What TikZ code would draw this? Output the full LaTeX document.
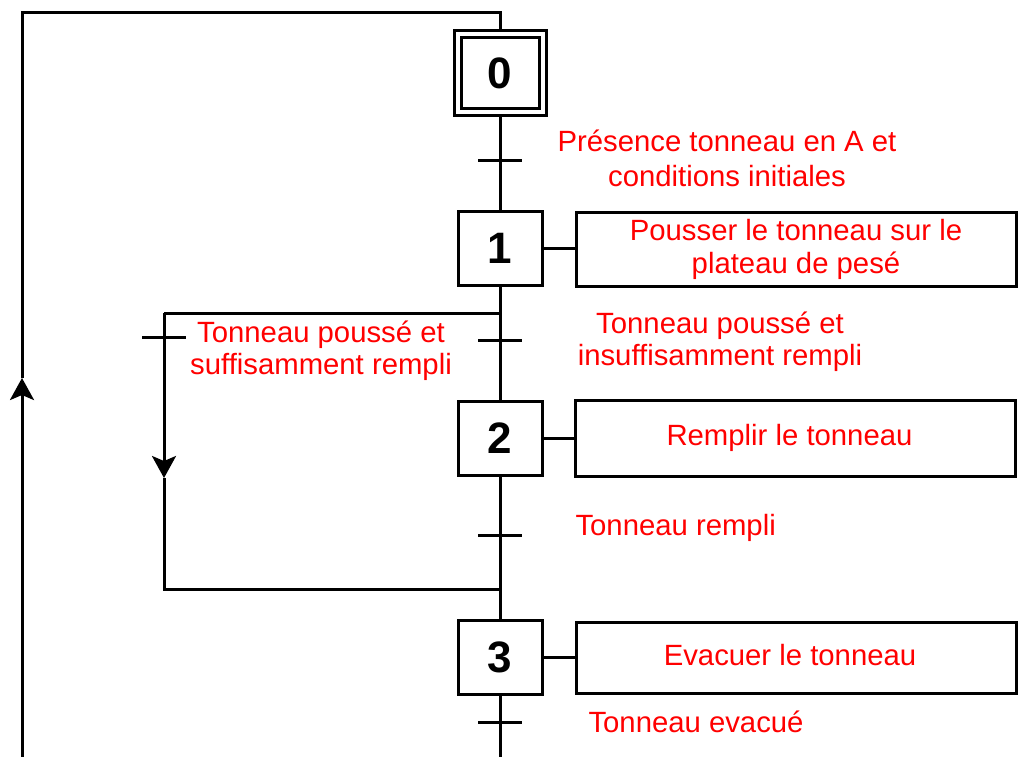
\documentclass[tikz,border=0pt]{standalone}
\usepackage{fontspec}
\setmainfont{Liberation Sans}
\usetikzlibrary{arrows.meta}
\begin{document}
\begin{tikzpicture}[x=1pt,y=-1pt,line width=3pt,
  stepbox/.style={draw,minimum width=84pt,minimum height=74pt,inner sep=0pt,font=\fontsize{44}{50}\selectfont\bfseries},
  actbox/.style={draw,minimum width=440pt,minimum height=74pt,inner sep=0pt,text=red,font=\fontsize{29.3}{32}\selectfont,align=center},
  lbl/.style={text=red,font=\fontsize{29.3}{32}\selectfont,align=center,inner sep=0pt},
  flow/.style={-{Stealth[length=22pt,width=24pt,inset=5pt]}}]
\useasboundingbox (0,0) rectangle (1024,756);
% steps
\node[stepbox,minimum width=92pt,minimum height=85pt] (s0) at (500,73) {};
\node[stepbox,minimum width=78pt,minimum height=71pt] (s0i) at (500,73) {0};
\node[stepbox] (s1) at (500,248) {1};
\node[stepbox] (s2) at (500,438.5) {2};
\node[stepbox] (s3) at (500,657) {3};
% actions
\node[actbox] (a1) at (796,249.5) {\raisebox{1pt}{Pousser le tonneau sur le}\\plateau de pesé};
\node[actbox,minimum height=76pt] (a2) at (795.5,438) {\hspace*{-12pt}Remplir le tonneau};
\node[actbox,minimum height=71pt] (a3) at (796,657.5) {\hspace*{-12pt}\raisebox{6pt}{Evacuer le tonneau}};
% coordinates
\coordinate (t0) at (500,160);
\coordinate (t1) at (500,340);
\coordinate (t2) at (500,535);
\coordinate (t3) at (500,722);
\coordinate (tl) at (164,337);
\coordinate (dv) at (500,313);
\coordinate (dvl) at (164,313);
\coordinate (ar1) at (164,478);
\coordinate (cvl) at (164,589);
\coordinate (cv) at (500,589);
\coordinate (bot) at (500,760);
\coordinate (lb) at (22,760);
\coordinate (ar2) at (22,378);
\coordinate (lt) at (22,12);
\coordinate (tt) at (500,12);
% main links
\draw (s0.south) -- (s1.north);
\draw (s1.south) -- (s2.north);
\draw (s2.south) -- (s3.north);
\draw (s3.south) -- (bot);
\draw (s1.east) -- (s1.east -| a1.west);
\draw (s2.east) -- (s2.east -| a2.west);
\draw (s3.east) -- (s3.east -| a3.west);
% skip branch
\draw (dv) -- (dvl);
\draw[flow] (dvl) -- (ar1);
\draw (ar1) -- (cvl) -- (cv);
% loop back
\draw[flow] (lb) -- (ar2);
\draw (ar2) -- (lt) -- (tt) -- (s0.north);
% transitions
\foreach \t in {t0,t1,t2,t3,tl}
  \draw ([xshift=-22pt]\t) -- ([xshift=22pt]\t);
% receptivities
\node[lbl,font=\fontsize{29.3}{35}\selectfont] (r0) at (727,158.5) {Présence tonneau en A et\\conditions initiales};
\node[lbl] (r1) at (720,342) {Tonneau poussé et\\insuffisamment rempli};
\node[lbl] (rl) at (321,351) {Tonneau poussé et\\suffisamment rempli};
\node[lbl,anchor=west] (r2) at (574,528) {Tonneau rempli};
\node[lbl,anchor=west] (r3) at (587,722) {Tonneau evacué};
\end{tikzpicture}
\end{document}
